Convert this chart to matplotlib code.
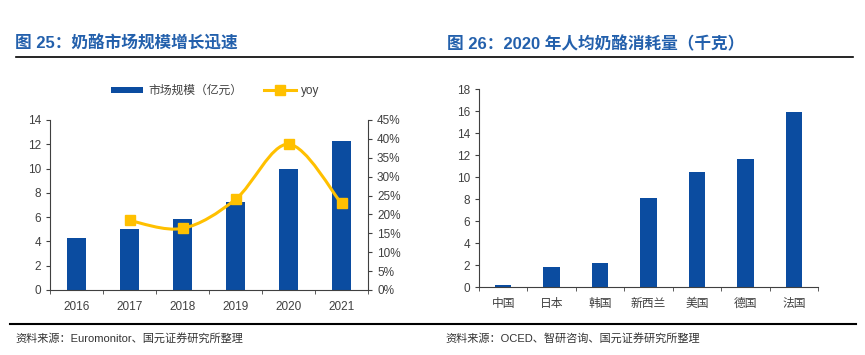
import matplotlib.pyplot as plt
import numpy as np
from matplotlib.path import Path
from matplotlib.patches import PathPatch
from matplotlib.lines import Line2D

plt.rcParams['font.family'] = ['Liberation Sans', 'Noto Sans CJK SC', 'DejaVu Sans']

# left chart: cheese market size and yoy growth
years = ['2016', '2017', '2018', '2019', '2020', '2021']
market_size = [4.25, 5.0, 5.82, 7.22, 10.0, 12.28]
yoy = [None, 18.4, 16.3, 24.0, 38.6, 22.9]

# right chart: 2020 cheese consumption per capita (kg)
countries = ['中国', '日本', '韩国', '新西兰', '美国', '德国', '法国']
consumption = [0.2, 1.83, 2.22, 8.12, 10.43, 11.62, 15.9]

bar_color = '#0B4CA0'
line_color = '#FFC000'
title_color = '#2360AC'
text_color = '#404040'

fig = plt.figure(figsize=(8.65, 3.55), dpi=100)

# titles and separator lines
fig.text(15 / 865, 1 - 44 / 355, '图 25：奶酪市场规模增长迅速', color=title_color,
         fontsize=12, fontweight='bold', va='center')
fig.text(447 / 865, 1 - 44 / 355, '图 26：2020 年人均奶酪消耗量（千克）', color=title_color,
         fontsize=12, fontweight='bold', va='center')
fig.add_artist(Line2D([16 / 865, 853 / 865], [1 - 57 / 355] * 2, color='black', lw=1.2))
fig.add_artist(Line2D([10 / 865, 856 / 865], [1 - 324 / 355] * 2, color='black', lw=1.5))
fig.text(15 / 865, 1 - 338 / 355, '资料来源：Euromonitor、国元证券研究所整理', color='#333333',
         fontsize=8, va='center')
fig.text(445 / 865, 1 - 338 / 355, '资料来源：OCED、智研咨询、国元证券研究所整理', color='#333333',
         fontsize=8, va='center')


def style_axis(ax, n):
    ax.set_xlim(-0.5, n - 0.5)
    ax.set_xticks(np.arange(n))
    ax.tick_params(axis='x', length=0, pad=8, labelsize=8.5, labelcolor=text_color)
    ax.set_xticks(np.arange(n + 1) - 0.5, minor=True)
    ax.tick_params(axis='x', which='minor', length=3, direction='out', color='#404040')
    ax.tick_params(axis='y', length=3, direction='out', labelsize=8.5, labelcolor=text_color,
                   color='#404040')
    for s in ['top', 'right']:
        ax.spines[s].set_visible(False)
    for s in ['left', 'bottom']:
        ax.spines[s].set_color('#404040')


# ---- left chart
ax1 = fig.add_axes([50 / 865, 65 / 355, 318 / 865, 170 / 355])
x = np.arange(len(years))
ax1.bar(x, market_size, width=0.34, color=bar_color, label='市场规模（亿元）', zorder=2)
ax1.set_xticks(x)
ax1.set_xticklabels(years)
ax1.set_ylim(0, 14)
ax1.set_yticks(range(0, 15, 2))
style_axis(ax1, len(years))

ax2 = ax1.twinx()
ax2.set_ylim(0, 45)
ax2.set_yticks(range(0, 46, 5))
ax2.set_yticklabels([f'{v}%' for v in range(0, 46, 5)])
ax2.tick_params(axis='y', length=3, direction='out', labelsize=8.5, labelcolor=text_color,
                color='#404040')
for s in ['top', 'left', 'bottom']:
    ax2.spines[s].set_visible(False)
ax2.spines['right'].set_color('#404040')

# smooth yoy line (Catmull-Rom as cubic Bezier)
px = np.array([i for i, v in enumerate(yoy) if v is not None], dtype=float)
py = np.array([v for v in yoy if v is not None], dtype=float)
pts = np.column_stack([px, py])
ext = np.vstack([pts[0], pts, pts[-1]])
verts = [tuple(pts[0])]
codes = [Path.MOVETO]
for i in range(len(pts) - 1):
    p0, p1, p2, p3 = ext[i], ext[i + 1], ext[i + 2], ext[i + 3]
    c1 = p1 + (p2 - p0) / 6
    c2 = p2 - (p3 - p1) / 6
    verts += [tuple(c1), tuple(c2), tuple(p2)]
    codes += [Path.CURVE4] * 3
ax2.add_patch(PathPatch(Path(verts, codes), facecolor='none', edgecolor=line_color,
                        lw=2.2, zorder=3))
ax2.plot(px, py, linestyle='none', marker='s', markersize=7, color=line_color, zorder=4)

h_bar = ax1.containers[0]
h_line = Line2D([], [], color=line_color, lw=2.2, marker='s', markersize=7)
ax1.legend([h_bar, h_line], ['市场规模（亿元）', 'yoy'], loc='center', ncol=2,
           bbox_to_anchor=(0.52, 1.17), frameon=False, fontsize=8.5, handlelength=2.7,
           handleheight=0.5, handletextpad=0.4, columnspacing=1.9, labelcolor=text_color)

# ---- right chart
ax3 = fig.add_axes([479 / 865, 68 / 355, 339 / 865, 198 / 355])
xc = np.arange(len(countries))
ax3.bar(xc, consumption, width=0.34, color=bar_color, zorder=2)
ax3.set_xticks(xc)
ax3.set_xticklabels(countries)
ax3.set_ylim(0, 18)
ax3.set_yticks(range(0, 19, 2))
style_axis(ax3, len(countries))

fig.savefig('out.png', dpi=100)
